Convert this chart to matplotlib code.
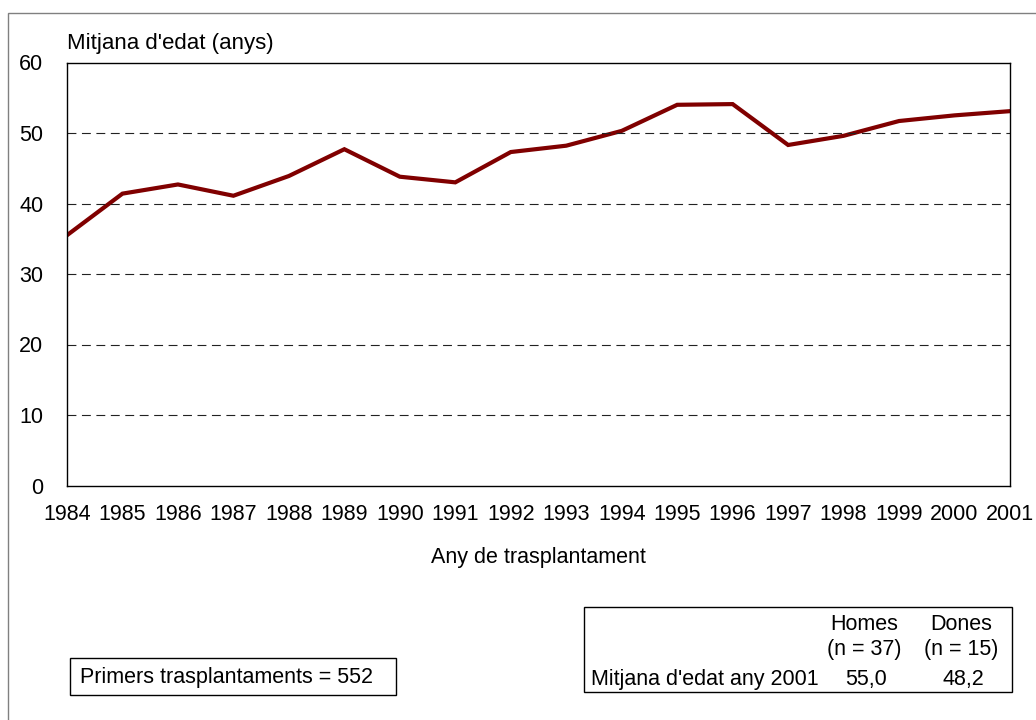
import matplotlib.pyplot as plt
from matplotlib.patches import Rectangle

plt.rcParams['font.family'] = ['Liberation Sans', 'DejaVu Sans']

# Dades: mitjana d'edat per any de trasplantament
anys = list(range(1984, 2002))
mitjana_edat = [35.5, 41.4, 42.7, 41.1, 43.9, 47.7, 43.8, 43.0, 47.3,
                48.2, 50.3, 54.0, 54.1, 48.3, 49.6, 51.7, 52.5, 53.1]
y_ticks = [0, 10, 20, 30, 40, 50, 60]

total_primers = 552
sexes = ['Homes', 'Dones']
n_sexes = [37, 15]
mitjana_2001 = ['55,0', '48,2']

W, H = 1036, 720
FS = 15.5
fig = plt.figure(figsize=(W / 100, H / 100), dpi=100)


def fx(x):
    return x / W


def fy(y):
    return 1 - y / H


# marc exterior
fig.patches.append(Rectangle((fx(8), fy(726)), fx(1040 - 8), (726 - 13) / H,
                             transform=fig.transFigure, fill=False,
                             edgecolor='#808080', linewidth=1.0))

ax = fig.add_axes([fx(67), fy(485.5), fx(1010 - 67), (485.5 - 62.5) / H])
ax.plot(anys, mitjana_edat, color='#800000', linewidth=3.0, solid_joinstyle='miter')
ax.set_xlim(anys[0], anys[-1])
ax.set_ylim(0, 60)
ax.set_xticks(anys)
ax.set_yticks(y_ticks)
ax.tick_params(axis='both', length=0, labelsize=FS)
ax.tick_params(axis='y', pad=17)
ax.tick_params(axis='x', pad=13)
for y in y_ticks[1:-1]:
    ax.axhline(y, color='#222222', linewidth=0.8, linestyle=(0, (8, 5)))
for s in ax.spines.values():
    s.set_linewidth(1.0)
    s.set_color('black')

fig.text(fx(67), fy(43), "Mitjana d'edat (anys)", fontsize=16, va='center', ha='left')
fig.text(fx(538), fy(557), 'Any de trasplantament', fontsize=FS, va='center', ha='center')

# quadre esquerre
fig.patches.append(Rectangle((fx(70), fy(695)), fx(396 - 70), (695 - 658) / H,
                             transform=fig.transFigure, fill=False,
                             edgecolor='black', linewidth=1.0))
fig.text(fx(80), fy(677), f'Primers trasplantaments = {total_primers}',
         fontsize=FS, va='center', ha='left')

# quadre dret
fig.patches.append(Rectangle((fx(584), fy(692)), fx(1012 - 584), (692 - 607) / H,
                             transform=fig.transFigure, fill=False,
                             edgecolor='black', linewidth=1.0))
col_x = [864, 961]
for cx, sexe, n, m in zip(col_x, sexes, n_sexes, mitjana_2001):
    fig.text(fx(cx), fy(624), sexe, fontsize=FS, va='center', ha='center')
    fig.text(fx(cx), fy(650), f'(n = {n})', fontsize=FS, va='center', ha='center')
    fig.text(fx(cx + 2), fy(679), m, fontsize=FS, va='center', ha='center')
fig.text(fx(591), fy(679), "Mitjana d'edat any 2001", fontsize=FS, va='center', ha='left')

fig.savefig('out.png', dpi=100)
